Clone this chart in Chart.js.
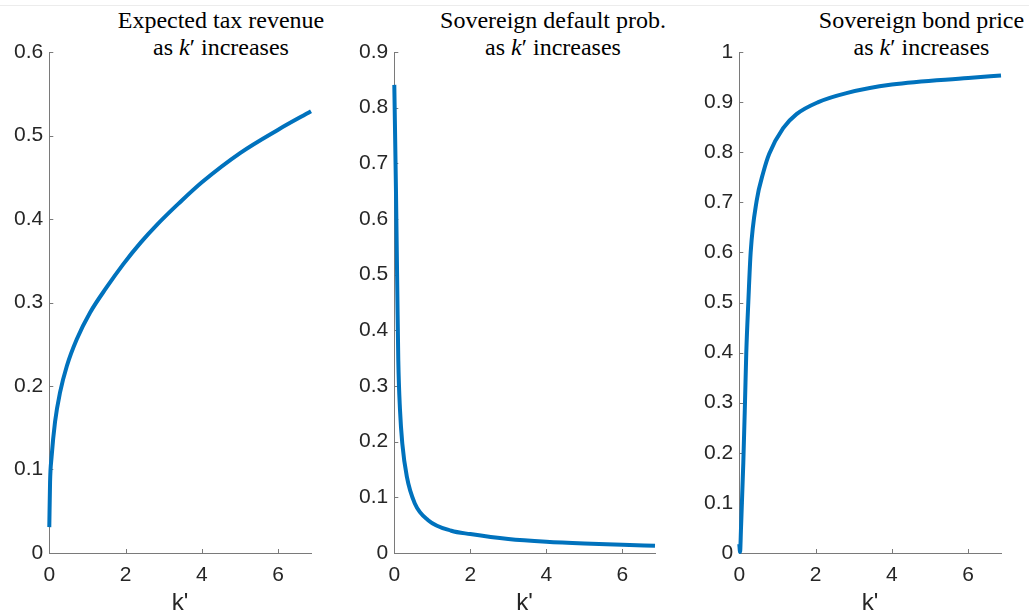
<!DOCTYPE html>
<html>
<head>
<meta charset="utf-8">
<script src="https://cdn.jsdelivr.net/npm/chart.js@4.4.1/dist/chart.umd.min.js"></script>
<style>
  html, body { margin: 0; padding: 0; background: #fff; }
  body { width: 1029px; height: 614px; position: relative; overflow: hidden; }
  .topline { position: absolute; left: 0; top: 5px; width: 1029px; height: 1px; background: #ececec; }
  .panel { position: absolute; top: 0; }
  .title {
    position: absolute; top: 7px;
    font-family: "Liberation Serif", "Times New Roman", serif;
    font-size: 24px; line-height: 26.7px; color: #000;
    text-align: center; white-space: nowrap; transform: translateX(-50%);
  }
</style>
</head>
<body>
<div class="topline"></div>

<div class="title" style="left:221px">Expected tax revenue<br>as <i>k</i>′ increases</div>
<div class="title" style="left:553px">Sovereign default prob.<br>as <i>k</i>′ increases</div>
<div class="title" style="left:921.5px">Sovereign bond price<br>as <i>k</i>′ increases</div>

<script>
// expected tax revenue against k'
const kTax = [0, 0.02, 0.06, 0.15, 0.28, 0.46, 0.72, 1.07, 1.5, 1.94, 2.4, 2.82, 3.4, 4, 5, 6, 6.86];
const taxRevenue = [0.031, 0.085, 0.115, 0.157, 0.192, 0.224, 0.256, 0.288, 0.318, 0.346, 0.372, 0.393, 0.419, 0.444, 0.479, 0.507, 0.529];

// sovereign default probability against k'
const kDefault = [0, 0.045, 0.08, 0.105, 0.15, 0.21, 0.33, 0.54, 0.89, 1.5, 2, 3, 4, 5, 6, 6.86];
const defaultProb = [0.841, 0.646, 0.466, 0.346, 0.257, 0.197, 0.137, 0.089, 0.059, 0.040, 0.034, 0.025, 0.020, 0.017, 0.015, 0.013];

// sovereign bond price against k'
const kPrice = [0, 0.02, 0.045, 0.105, 0.149, 0.183, 0.236, 0.298, 0.455, 0.63, 0.785, 1.15, 1.5, 2.07, 2.81, 4, 6, 6.86];
const bondPrice = [0.018, 0.002, 0.05, 0.18, 0.30, 0.40, 0.50, 0.60, 0.703, 0.760, 0.797, 0.848, 0.876, 0.90, 0.918, 0.935, 0.948, 0.953];

const xTicks = [0, 2, 4, 6];
const taxTicks = [0, 0.1, 0.2, 0.3, 0.4, 0.5, 0.6];
const probTicks = [0, 0.1, 0.2, 0.3, 0.4, 0.5, 0.6, 0.7, 0.8, 0.9];
const priceTicks = [0, 0.1, 0.2, 0.3, 0.4, 0.5, 0.6, 0.7, 0.8, 0.9, 1];

const K_MAX = 6.86;
const LINE_BLUE = "#0072BD";
const AXIS_COLOR = "#7a7a7a";
const TICK_LEN = 4;

Chart.defaults.font.family = '"Liberation Sans", Arial, sans-serif';
Chart.defaults.font.size = 21;
Chart.defaults.color = "#262626";

// short tick marks pointing into the plot area
const inwardTicks = {
    id: "inwardTicks",
    beforeDatasetsDraw(chart) {
        const { ctx, scales: { x, y } } = chart;
        ctx.save();
        ctx.strokeStyle = AXIS_COLOR;
        ctx.lineWidth = 1;
        ctx.beginPath();
        x.ticks.forEach(t => {
            const px = Math.round(x.getPixelForValue(t.value)) + 0.5;
            ctx.moveTo(px, x.top);
            ctx.lineTo(px, x.top - TICK_LEN);
        });
        y.ticks.forEach(t => {
            const py = Math.round(y.getPixelForValue(t.value)) + 0.5;
            ctx.moveTo(y.right, py);
            ctx.lineTo(y.right + TICK_LEN, py);
        });
        ctx.stroke();
        ctx.restore();
    }
};

function makePanel(left, width, rightPad, ks, values, yTicks) {
    const holder = document.createElement("div");
    holder.className = "panel";
    holder.style.left = left + "px";
    const canvas = document.createElement("canvas");
    canvas.width = width;
    canvas.height = 614;
    holder.appendChild(canvas);
    document.body.appendChild(holder);

    new Chart(canvas, {
        type: "line",
        data: {
            datasets: [{
                data: ks.map((k, i) => ({ x: k, y: values[i] })),
                borderColor: LINE_BLUE,
                borderWidth: 4,
                pointRadius: 0,
                cubicInterpolationMode: "monotone",
                clip: false
            }]
        },
        options: {
            responsive: false,
            animation: false,
            layout: { padding: { left: 0, top: 52, right: rightPad, bottom: 0 } },
            plugins: { legend: { display: false }, tooltip: { enabled: false } },
            scales: {
                x: {
                    type: "linear",
                    min: 0,
                    max: K_MAX,
                    afterBuildTicks: s => { s.ticks = xTicks.map(v => ({ value: v })); },
                    afterFit: s => { s.height = 614 - 553; },
                    grid: { display: false, drawTicks: false },
                    border: { color: AXIS_COLOR, width: 1 },
                    ticks: { padding: 10, maxRotation: 0 },
                    title: {
                        display: true,
                        text: "k'",
                        font: { size: 24 },
                        padding: { top: 0, bottom: -4 }
                    }
                },
                y: {
                    min: 0,
                    max: yTicks[yTicks.length - 1],
                    afterBuildTicks: s => { s.ticks = yTicks.map(v => ({ value: v })); },
                    afterFit: s => { s.width = 49.3; },
                    grid: { display: false, drawTicks: false },
                    border: { color: AXIS_COLOR, width: 1 },
                    ticks: { padding: 6, callback: v => String(+v.toFixed(1)) }
                }
            }
        },
        plugins: [inwardTicks]
    });
}

makePanel(0, 330, 19, kTax, taxRevenue, taxTicks);
makePanel(345, 330, 20, kDefault, defaultProb, probTicks);
makePanel(690, 339, 28, kPrice, bondPrice, priceTicks);
</script>
</body>
</html>
